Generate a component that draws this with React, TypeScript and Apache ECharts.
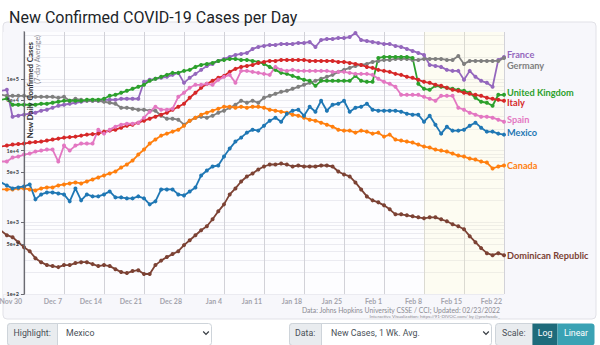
import React, { useEffect, useRef } from "react";
import * as echarts from "echarts";

// ---- data (7-day average of new daily cases), Nov 26 2021 .. Feb 22 2022 ----
const france = [
  68130, 70340, 29660, 30630,
  31620, 32650, 33710, 35940, 37110, 39560, 42170,
  43540, 44960, 46420, 47920, 49480, 49480, 49480,
  51090, 51090, 51090, 52750, 52750, 52750, 52750,
  90850, 96850, 100000, 103250, 106610, 113650, 121150,
  87990, 103250, 117350, 133350, 151550, 161560, 177830,
  189570, 202090, 215440, 222440, 229670, 261020, 278260,
  287300, 296640, 296640, 306280, 306280, 306280, 316230,
  316230, 326500, 278260, 348100, 359400, 359400, 371100,
  371100, 383100, 435400, 348100, 337130, 326500, 316230,
  306280, 306280, 287300, 278260, 261020, 244840, 229670,
  215440, 156470, 151550, 146780, 133350, 129150, 129150,
  96850, 129150, 106610, 93800, 87990, 77430, 183610,
  202090,
];
const germany = [
  59950, 58060, 58060, 58060,
  58060, 56230, 56230, 56230, 56230, 56230, 54460,
  56230, 49480, 52750, 51090, 49480, 49480, 49480,
  47920, 46420, 44960, 39560, 39560, 38310, 37110,
  37110, 35940, 35940, 30630, 27830, 27830, 26950,
  22970, 26100, 28730, 29660, 28730, 30630, 33710,
  35940, 39560, 43540, 49480, 46420, 49480, 46420,
  54460, 58060, 61900, 65980, 68130, 72630, 77430,
  82540, 87990, 93800, 100000, 106610, 113650, 125100,
  133350, 142160, 151550, 156470, 161560, 172230, 177830,
  183610, 183610, 189570, 189570, 189570, 183610, 183610,
  189570, 189570, 189570, 189570, 183610, 183610, 208660,
  161560, 177830, 177830, 177830, 177830, 177830, 177830,
  195740,
];
const unitedKingdom = [
  51090, 53000, 43540, 43540,
  43540, 43540, 43540, 44960, 44960, 46420, 47920,
  49480, 49480, 49480, 49480, 51090, 51090, 51090,
  52750, 58060, 59950, 63910, 68130, 72630, 77430,
  82540, 93800, 100000, 106610, 113650, 121150, 121150,
  129150, 133350, 146780, 156470, 161560, 166810, 177830,
  183610, 189570, 189570, 183610, 183610, 177830, 172230,
  161560, 146780, 133350, 121150, 117350, 110070, 103250,
  96850, 93800, 79940, 93800, 93800, 93800, 93800,
  93800, 93800, 110070, 93800, 90850, 90850, 195740,
  202090, 202090, 202090, 202090, 202090, 195740, 85220,
  72630, 70340, 79940, 77430, 74990, 72630, 70340,
  68130, 63910, 54460, 47920, 46420, 42170, 59950,
  59950,
];
const italy = [
  11360, 11730, 12120, 12320,
  12510, 12920, 13130, 13340, 13770, 14220, 14680,
  15150, 15400, 15650, 16160, 16680, 16950, 17220,
  18360, 18960, 19570, 20870, 22240, 22970, 24480,
  26100, 27830, 29660, 31620, 33710, 37110, 40840,
  44960, 54460, 63910, 74990, 85220, 93800, 103250,
  110070, 125100, 137680, 146780, 151550, 156470, 166810,
  172230, 177830, 177830, 183610, 183610, 183610, 183610,
  183610, 177830, 177830, 177830, 177830, 177830, 172230,
  172230, 166810, 161560, 156470, 146780, 142160, 133350,
  129150, 125100, 117350, 113650, 106610, 103250, 96850,
  90850, 87990, 82540, 79940, 74990, 70340, 68130,
  63910, 61900, 59950, 58060, 54460, 52750, 51090,
  49480,
];
const spain = [
  7034, 7034, 7994, 8254,
  8799, 9085, 9685, 10000, 10320, 10320, 7034,
  11730, 10000, 11730, 12510, 12510, 12510, 19570,
  17220, 19570, 21540, 22970, 23710, 23710, 24480,
  28730, 34810, 40840, 37110, 37110, 38310, 56230,
  63910, 74990, 82540, 82540, 85220, 82540, 96850,
  106610, 113650, 87990, 129150, 129150, 125100, 121150,
  117350, 113650, 146780, 133350, 129150, 133350, 129150,
  129150, 129150, 129150, 129150, 129150, 125100, 125100,
  125100, 121150, 117350, 117350, 117350, 113650, 100000,
  90850, 85220, 77430, 59950, 59950, 59950, 59950,
  56230, 52750, 49480, 58060, 58060, 58060, 39560,
  37110, 33710, 31620, 29660, 29660, 28730, 26950,
  25280,
];
const mexico = [
  3594, 3265, 2966, 3063,
  3162, 3371, 2087, 2448, 2610, 2610, 2528,
  2448, 1957, 2966, 2021, 2448, 2297, 2297,
  2448, 2695, 2224, 2224, 2154, 2154, 2297,
  2154, 1778, 1957, 2873, 2873, 2873, 2448,
  2371, 2695, 3063, 4496, 5275, 5995, 6190,
  8254, 10660, 13340, 15150, 17780, 19570, 18960,
  22240, 26100, 28730, 25280, 32650, 35940, 37110,
  30630, 40840, 34810, 49480, 35940, 43540, 44960,
  49480, 34810, 39560, 40840, 44960, 37110, 35940,
  35940, 35940, 35940, 34810, 32650, 31620, 31620,
  25280, 30630, 22970, 17220, 21540, 18960, 18960,
  19570, 22240, 24480, 20870, 18360, 18360, 17220,
  16680,
];
const canada = [
  2873, 2873, 2873, 2966,
  2966, 2873, 2783, 2966, 3063, 3063, 3265,
  3371, 3481, 3594, 3481, 3711, 3956, 4217,
  4496, 4797, 5108, 5806, 6391, 7263, 8799,
  10320, 12510, 14220, 16160, 17220, 18360, 19570,
  22240, 26100, 28730, 31620, 33710, 35940, 38310,
  40840, 40840, 39560, 40840, 39560, 40840, 40840,
  39560, 37110, 35940, 34810, 33710, 31620, 30630,
  28730, 26950, 26100, 24480, 22970, 21540, 19570,
  18960, 18960, 17780, 18960, 18360, 17220, 17780,
  15650, 16680, 14220, 13770, 13340, 12920, 12120,
  11360, 11010, 10320, 10000, 9685, 9085, 8522,
  8254, 7743, 7499, 7034, 6813, 5623, 5995,
  6190,
];
const dominicanRepublic = [
  760, 660, 620, 527,
  450, 395, 316, 278, 253, 245, 237,
  253, 253, 270, 278, 278, 261, 245,
  253, 245, 222, 202, 196, 209, 215,
  190, 190, 253, 292, 327, 360, 395,
  480, 562, 659, 774, 880, 1101, 1421,
  1778, 2448, 2966, 3707, 4354, 4797, 5450,
  5995, 6390, 6390, 6593, 6390, 5995, 6193,
  5995, 5995, 5995, 6193, 6193, 5995, 5108,
  4642, 4354, 3594, 2872, 2296, 2021, 1896,
  1722, 1517, 1292, 1292, 1251, 1211, 1172,
  1136, 1172, 1172, 1101, 1033, 938, 880,
  800, 640, 527, 436, 371, 348, 371,
  348,
];

const FIRST_DAY = -4; // first data point is Nov 26, 4 days before Nov 30
const MONTHS = ["Jan", "Feb", "Mar", "Apr", "May", "Jun", "Jul", "Aug", "Sep", "Oct", "Nov", "Dec"];
const START_UTC = Date.UTC(2021, 10, 26);
const dates: string[] = france.map((_, i) => {
  const d = new Date(START_UTC + i * 86400000);
  return MONTHS[d.getUTCMonth()] + " " + d.getUTCDate();
});

const xTickDays = [0, 7, 14, 21, 28, 35, 42, 49, 56, 63, 70, 77, 84];
const highlightRange = [70, 84]; // Feb 8 .. Feb 22
const yLabelValues = [100, 500, 1000, 5000, 10000, 50000, 100000];
const yGridValues = [
  100, 200, 300, 400, 500, 600, 700, 800, 900,
  1000, 2000, 3000, 4000, 5000, 6000, 7000, 8000, 9000,
  10000, 20000, 30000, 40000, 50000, 60000, 70000, 80000, 90000,
  100000, 200000, 300000, 400000,
];
const Y_MIN = 100;
const Y_MAX = 450000;

const countries = [
  { name: "France", values: france },
  { name: "Germany", values: germany },
  { name: "United Kingdom", values: unitedKingdom },
  { name: "Italy", values: italy },
  { name: "Spain", values: spain },
  { name: "Canada", values: canada },
  { name: "Dominican Republic", values: dominicanRepublic },
  { name: "Mexico", values: mexico },
];

// ---- styles ----
const styles: Record<string, { color: string; dy: number }> = {
  France: { color: "#9467bd", dy: -2 },
  Germany: { color: "#7f7f7f", dy: 8 },
  "United Kingdom": { color: "#2ca02c", dy: -2 },
  Italy: { color: "#d62728", dy: 2 },
  Spain: { color: "#e377c2", dy: -2 },
  Mexico: { color: "#1f77b4", dy: -2 },
  Canada: { color: "#ff7f0e", dy: 0 },
  "Dominican Republic": { color: "#7c4234", dy: 0 },
};

const GRID_LEFT = 3;
const AXIS_X = 24;
const PLOT_RIGHT = 504;
const PX_PER_DAY = (PLOT_RIGHT - AXIS_X) / 84;
const X_MIN = -(AXIS_X - GRID_LEFT) / PX_PER_DAY;
const CARD = "#f7f7fb";
const UI_FONT = "Roboto";
const CH_FONT = "Lato";

function expLabel(v: number) {
  const e = Math.floor(v + 1e-6);
  const m = Math.round(Math.pow(10, v - e));
  return m + "e+" + e;
}

export default function App() {
  const ref = useRef<HTMLDivElement>(null);
  useEffect(() => {
    if (!ref.current) return;
    const chart = echarts.init(ref.current, undefined, { renderer: "svg" });
    const lmin = Math.log10(Y_MIN);
    const lmax = Math.log10(Y_MAX);

    const series: any[] = countries.map((c, idx) => {
      const st = styles[c.name];
      const s: any = {
        name: c.name,
        type: "line",
        yAxisIndex: 0,
        data: c.values.map((v, i) => [i + FIRST_DAY, v]),
        symbol: "circle",
        symbolSize: 4,
        showSymbol: true,
        clip: true,
        z: 3,
        lineStyle: { color: st.color, width: 1.8 },
        itemStyle: { color: st.color },
        emphasis: { disabled: true },
        endLabel: {
          show: true,
          formatter: c.name,
          color: st.color,
          fontSize: 9.2,
          lineHeight: 9,
          fontWeight: "bold",
          fontFamily: CH_FONT,
          distance: 3,
          offset: [0, st.dy],
        },
      };
      if (idx === 0) {
        s.markArea = {
          silent: true,
          itemStyle: { color: "rgba(255, 252, 190, 0.2)" },
          data: [[{ xAxis: highlightRange[0] }, { xAxis: highlightRange[1] }]],
        };
      }
      return s;
    });

    const bx = 323;
    const bh = 22;
    const cy = bx + 10;
    const chevron = (cx: number) => ({
      type: "polyline",
      shape: { points: [[cx - 2.8, cy - 1.5], [cx, cy + 1.3], [cx + 2.8, cy - 1.5]] },
      style: { stroke: "#343a40", lineWidth: 1.2, fill: "none" },
      z: 10,
    });
    const uiText = (x: number, text: string, color = "#495057", align = "left") => ({
      type: "text",
      x,
      y: cy,
      z: 10,
      style: { text, fill: color, fontSize: 8.8, fontFamily: UI_FONT, verticalAlign: "middle", align },
    });

    const option: any = {
      animation: false,
      backgroundColor: "#ffffff",
      textStyle: { fontFamily: CH_FONT },
      title: {
        text: "New Confirmed COVID-19 Cases per Day",
        left: 4,
        top: 4,
        textStyle: { fontSize: 16, fontWeight: "normal", fontFamily: UI_FONT, color: "#212529" },
      },
      grid: {
        left: GRID_LEFT,
        right: 600 - PLOT_RIGHT,
        top: 32,
        bottom: 345 - 294,
        show: true,
        backgroundColor: "#fdfdff",
        borderWidth: 0,
        containLabel: false,
        outerBoundsMode: "none",
      },
      xAxis: {
        type: "value",
        min: X_MIN,
        max: 84,
        axisLine: { show: false },
        axisTick: { show: false, customValues: xTickDays },
        splitLine: { show: true, lineStyle: { color: "#d2d2d8", width: 1 } },
        axisLabel: {
          customValues: xTickDays,
          formatter: (v: number) => dates[Math.round(v) - FIRST_DAY] || "",
          align: "right",
          padding: [0, 2, 0, 0],
          margin: 3,
          fontSize: 7,
          fontWeight: "bold",
          fontFamily: CH_FONT,
          color: "#a4a4ad",
          showMinLabel: true,
          showMaxLabel: true,
        },
      },
      yAxis: [
        {
          type: "log",
          logBase: 10,
          min: Y_MIN,
          max: Y_MAX,
          position: "right",
          axisLine: { show: true, lineStyle: { color: "#8e8e95", width: 1.5 } },
          axisTick: { show: false },
          axisLabel: { show: false },
          splitLine: { show: false },
          minorSplitLine: { show: false },
        },
        {
          type: "value",
          min: lmin,
          max: lmax,
          position: "left",
          offset: -(AXIS_X - GRID_LEFT),
          z: 5,
          axisLine: { show: true, lineStyle: { color: "#6b6b72", width: 1.2 } },
          axisTick: {
            show: true,
            length: 3,
            lineStyle: { color: "#6b6b72" },
            customValues: yLabelValues.map((v) => Math.log10(v)),
          },
          axisLabel: {
            customValues: yLabelValues.map((v) => Math.log10(v)),
            formatter: (v: number) => expLabel(v),
            fontSize: 5.5,
            fontWeight: "bold",
            fontFamily: CH_FONT,
            color: "#3c3c42",
            margin: 5,
          },
          splitLine: { show: false },
        },
        {
          type: "value",
          min: lmin,
          max: lmax,
          position: "left",
          axisLine: { show: false },
          axisTick: { show: false, customValues: yGridValues.map((v) => Math.log10(v)) },
          axisLabel: { show: false },
          splitLine: { show: true, lineStyle: { color: "#ebebf1", width: 1 } },
        },
      ],
      graphic: [
        {
          type: "rect",
          z: -1,
          shape: { x: 3, y: 22, width: 593, height: 297, r: 4 },
          style: { fill: CARD, stroke: "#e1e1e7", lineWidth: 1 },
        },
        {
          type: "rect",
          z: 1,
          shape: { x: GRID_LEFT, y: 32, width: AXIS_X - GRID_LEFT - 0.5, height: 262 },
          style: { fill: CARD },
        },
        {
          type: "text",
          x: 30,
          y: 42,
          rotation: Math.PI / 2,
          z: 10,
          style: {
            text: "New Daily Confirmed Cases",
            fill: "#2f2f33",
            fontSize: 7.8,
            fontWeight: "bold",
            fontFamily: CH_FONT,
            align: "right",
            verticalAlign: "middle",
          },
        },
        {
          type: "text",
          x: 37.5,
          y: 35,
          rotation: Math.PI / 2,
          z: 10,
          style: {
            text: "(7-day Average)",
            fill: "#8d8d94",
            fontSize: 7.2,
            fontFamily: CH_FONT,
            align: "right",
            verticalAlign: "middle",
          },
        },
        {
          type: "text",
          x: 500,
          y: 309.5,
          z: 10,
          style: {
            text: "Data: Johns Hopkins University CSSE / CCI; Updated: 02/23/2022",
            fill: "#8a8a92",
            fontSize: 6.8,
            fontFamily: CH_FONT,
            align: "right",
            verticalAlign: "middle",
          },
        },
        {
          type: "text",
          x: 500,
          y: 315.5,
          z: 10,
          style: {
            text: "Interactive Visualization: https://91-DIVOC.com/ by @profwade_",
            fill: "#8a8a92",
            fontSize: 4.6,
            fontFamily: CH_FONT,
            align: "right",
            verticalAlign: "middle",
          },
        },
        // Highlight control
        { type: "rect", z: 9, shape: { x: 7.5, y: bx + 0.5, width: 204, height: bh, r: 3 }, style: { fill: "#ffffff", stroke: "#ced4da", lineWidth: 1 } },
        { type: "rect", z: 9, shape: { x: 7.5, y: bx + 0.5, width: 50, height: bh, r: [3, 0, 0, 3] }, style: { fill: "#e9ecef", stroke: "#ced4da", lineWidth: 1 } },
        uiText(13.5, "Highlight:"),
        uiText(66, "Mexico"),
        chevron(206),
        // Data control
        { type: "rect", z: 9, shape: { x: 289.5, y: bx + 0.5, width: 202, height: bh, r: 3 }, style: { fill: "#ffffff", stroke: "#ced4da", lineWidth: 1 } },
        { type: "rect", z: 9, shape: { x: 289.5, y: bx + 0.5, width: 32, height: bh, r: [3, 0, 0, 3] }, style: { fill: "#e9ecef", stroke: "#ced4da", lineWidth: 1 } },
        uiText(295, "Data:"),
        uiText(331, "New Cases, 1 Wk. Avg."),
        chevron(486),
        // Scale control
        { type: "rect", z: 9, shape: { x: 495.5, y: bx + 0.5, width: 37, height: bh, r: [3, 0, 0, 3] }, style: { fill: "#e9ecef", stroke: "#ced4da", lineWidth: 1 } },
        uiText(502, "Scale:"),
        { type: "rect", z: 9, shape: { x: 532.5, y: bx + 0.5, width: 25, height: bh }, style: { fill: "#1e6b7b" } },
        uiText(545, "Log", "#ffffff", "center"),
        { type: "rect", z: 9, shape: { x: 557.5, y: bx + 0.5, width: 37, height: bh, r: [0, 3, 3, 0] }, style: { fill: "#3aa2b4" } },
        uiText(576, "Linear", "#ffffff", "center"),
      ],
      series,
    };
    chart.setOption(option);
    return () => chart.dispose();
  }, []);

  return (
    <div
      ref={ref}
      style={{ position: "fixed", left: 0, top: 0, width: 600, height: 345 }}
    />
  );
}
